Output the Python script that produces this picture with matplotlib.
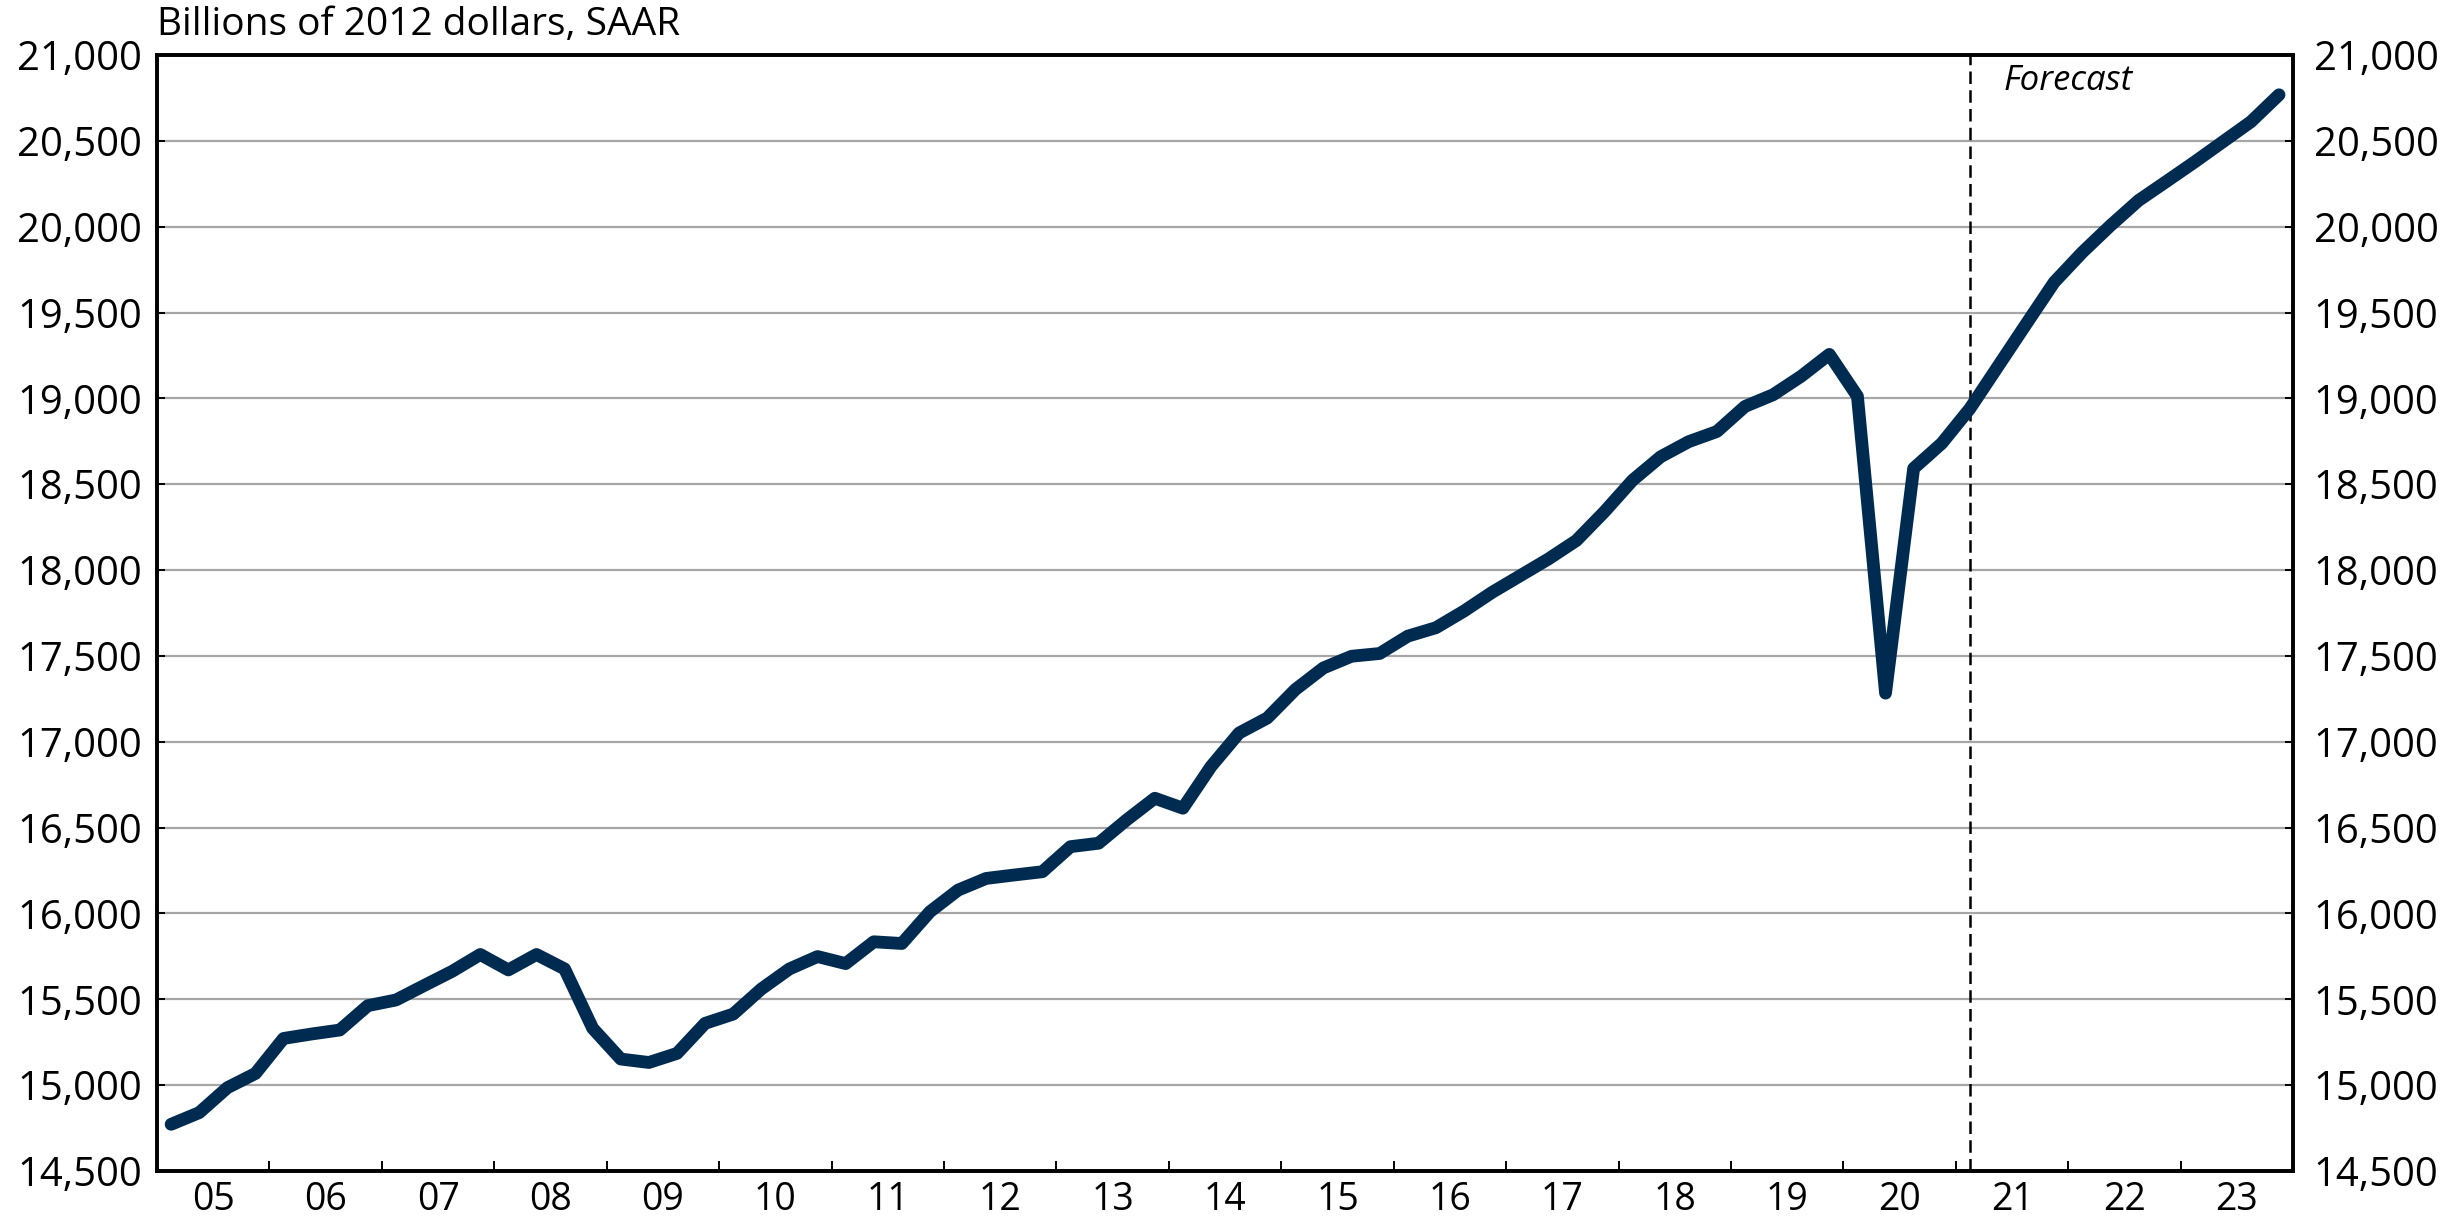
import numpy as np, matplotlib; matplotlib.use("Agg")
import matplotlib.pyplot as plt
from matplotlib.ticker import FixedLocator, FuncFormatter

plt.rcParams["font.family"] = ["Open Sans", "DejaVu Sans"]

years = list(range(2005, 2024))
gdp = [14772, 14840, 14985, 15068,
       15272, 15298, 15321, 15463,
       15496, 15580, 15663, 15761,
       15671, 15761, 15677, 15331,
       15152, 15132, 15185, 15360,
       15414, 15560, 15677, 15749,
       15708, 15835, 15825, 16010,
       16136, 16204, 16224, 16243,
       16389, 16409, 16545, 16671,
       16613, 16856, 17051, 17138,
       17304, 17430, 17498, 17514,
       17615, 17664, 17761, 17870,
       17967, 18064, 18172, 18340,
       18523, 18660, 18748, 18807,
       18953, 19021, 19129, 19256,
       19012, 17283, 18592, 18738,
       18940, 19186, 19432, 19676,
       19850, 20006, 20152, 20264,
       20377, 20494, 20611, 20768]
forecast_start = (2021, 1)
year_labels = [f"{y % 100:02d}" for y in years]
y_ticks = list(range(14500, 21001, 500))

# quarter midpoints on a year axis
xq = [y + (q - 0.5) / 4 for y in years for q in range(1, 5)]
x_fc = forecast_start[0] + (forecast_start[1] - 0.5) / 4

fig = plt.figure(figsize=(12.29, 6.12), dpi=200)
ax = fig.add_axes([0.0639, 0.0433, 0.8690, 0.9118])

ax.plot(xq, gdp, color="#002B50", lw=4.6, solid_joinstyle="round", solid_capstyle="round", zorder=5)
ax.axvline(x_fc, color="black", lw=0.9, ls=(0, (5, 2.5)), zorder=4)
ax.text(x_fc + 0.3, 20850, "Forecast", style="italic", fontsize=12.5, ha="left", va="center")

ax.set_xlim(years[0], years[-1] + 1)
ax.set_ylim(y_ticks[0], y_ticks[-1])
ax.set_yticks(y_ticks)
ax.yaxis.grid(True, color="#A6A6A6", lw=0.8)
ax.set_axisbelow(True)
fmt = FuncFormatter(lambda v, p: f"{v:,.0f}")
ax.yaxis.set_major_formatter(fmt)

ax.xaxis.set_major_locator(FixedLocator([y + 0.5 for y in years]))
ax.set_xticklabels(year_labels)
ax.xaxis.set_minor_locator(FixedLocator(years[1:]))
ax.tick_params(axis="x", which="major", length=0, pad=3.5, labelsize=13.5)
ax.tick_params(axis="x", which="minor", direction="in", length=3.6, width=0.7)
ax.tick_params(axis="y", direction="in", length=3, width=0.7, labelsize=14.4, pad=5.5)

ax2 = ax.twinx()
ax2.set_ylim(ax.get_ylim())
ax2.set_yticks(y_ticks)
ax2.yaxis.set_major_formatter(fmt)
ax2.tick_params(axis="y", direction="in", length=3, width=0.7, labelsize=14.4, pad=7.5)

for a in (ax, ax2):
    for s in a.spines.values():
        s.set_linewidth(1.3); s.set_color("black")

ax.text(0.0, 1.01, "Billions of 2012 dollars, SAAR", transform=ax.transAxes,
        ha="left", va="bottom", fontsize=14)

fig.savefig("out.png", dpi=200)
